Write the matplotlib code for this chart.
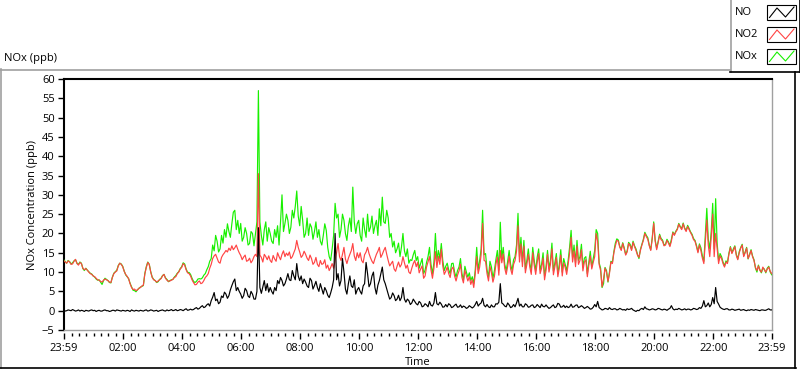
import numpy as np
import matplotlib
matplotlib.use("Agg")
import matplotlib.pyplot as plt
from matplotlib.lines import Line2D

# ---------------- data (3-minute samples from 23:59 to 23:59) ----------------
sample_step_min = 3

no_ppb = [
    0.2, -0.1, 0.0, 0.2, 0.1, 0.0, 0.3, 0.1, -0.1, 0.0, 0.2, -0.1, 0.1, 0.0, -0.2, 0.1, 0.0, -0.1, 0.1, 0.2,
    0.0, 0.1, -0.2, 0.0, 0.1, -0.1, -0.1, 0.1, 0.2, 0.0, 0.0, -0.2, -0.1, 0.1, 0.1, -0.1, 0.2, 0.1, 0.0, -0.1,
    0.1, 0.0, -0.1, 0.1, 0.0, -0.2, 0.2, 0.0, -0.1, 0.1, 0.0, -0.1, 0.1, 0.0, -0.1, 0.1, 0.2, -0.1, 0.0, 0.2,
    0.1, -0.1, 0.0, 0.1, -0.2, 0.0, 0.1, 0.2, 0.0, -0.1, 0.2, 0.0, 0.1, 0.3, 0.0, 0.1, 0.3, 0.0, 0.1, 0.3,
    0.2, 0.0, 0.3, 0.5, 0.1, 0.2, 0.4, 0.2, 0.3, 0.6, 0.8, 0.4, 0.6, 1.0, 1.3, 0.8, 1.0, 1.5, 1.8, 1.2,
    2.6, 3.5, 4.7, 2.6, 3.0, 1.8, 2.2, 3.8, 3.4, 4.8, 4.3, 3.2, 3.9, 5.4, 6.5, 7.5, 8.2, 5.2, 6.0, 5.0,
    4.3, 3.2, 3.9, 5.8, 5.2, 3.8, 3.4, 5.0, 4.3, 3.0, 3.0, 5.0, 21.5, 6.0, 4.5, 6.2, 7.8, 5.2, 7.0, 4.8,
    6.0, 5.0, 4.3, 6.0, 5.2, 7.8, 7.0, 8.6, 7.8, 6.4, 7.0, 8.2, 9.6, 8.0, 7.8, 10.4, 9.0, 8.0, 12.2, 9.0,
    7.8, 9.0, 7.0, 8.2, 7.4, 6.4, 6.0, 8.4, 7.8, 5.6, 6.5, 7.6, 6.0, 5.0, 7.0, 5.6, 4.3, 6.0, 5.2, 4.0,
    3.4, 4.6, 6.0, 8.0, 20.0, 8.0, 9.6, 6.4, 7.8, 13.5, 10.0, 5.6, 4.3, 7.0, 9.0, 6.4, 6.0, 8.0, 4.3, 5.4,
    6.0, 5.0, 4.3, 6.4, 7.0, 12.5, 9.6, 6.2, 7.0, 9.0, 10.0, 6.0, 4.3, 6.6, 7.8, 9.6, 11.3, 8.0, 7.0, 5.6,
    4.3, 3.0, 3.4, 4.6, 3.9, 2.6, 3.0, 4.0, 2.6, 3.4, 6.0, 3.0, 2.2, 3.0, 2.6, 1.6, 2.0, 3.0, 2.4, 1.8,
    1.5, 2.4, 2.0, 1.0, 1.2, 1.8, 1.5, 1.0, 2.4, 1.4, 1.2, 2.0, 4.7, 1.8, 1.5, 2.2, 1.7, 0.9, 1.0, 1.6,
    1.0, 1.8, 1.5, 0.8, 1.0, 1.4, 1.7, 0.9, 1.0, 1.5, 0.8, 1.2, 1.0, 0.6, 0.8, 1.3, 1.0, 0.7, 1.0, 1.6,
    2.4, 1.2, 1.7, 2.0, 3.2, 1.4, 1.0, 1.6, 1.0, 0.8, 1.5, 1.0, 1.0, 1.8, 1.7, 2.2, 7.0, 2.0, 1.7, 1.2,
    1.0, 2.0, 1.5, 0.8, 1.0, 1.6, 1.0, 2.0, 3.2, 1.2, 1.7, 1.0, 1.0, 1.8, 1.5, 0.9, 1.0, 1.4, 1.5, 0.8,
    1.0, 1.6, 1.2, 0.8, 1.7, 1.1, 1.0, 1.5, 1.0, 0.6, 0.8, 1.2, 1.5, 0.8, 1.0, 1.9, 1.7, 0.9, 1.0, 1.4,
    0.8, 1.2, 0.8, 1.0, 1.7, 0.9, 1.0, 1.4, 1.5, 0.8, 1.0, 1.3, 1.0, 0.6, 0.8, 1.1, 0.8, 0.4, 0.5, 0.9,
    1.6, 1.0, 2.4, 0.8, 0.5, 0.2, 0.3, 0.6, 0.5, 0.3, 0.8, 0.4, 0.3, 0.5, 0.5, 0.2, 0.3, 0.6, 0.4, 0.2,
    0.3, 0.1, 0.5, 0.3, 0.4, 0.6, 0.2, 0.0, -0.2, 0.1, 0.0, 0.4, 0.6, 0.3, 1.0, 0.5, 0.4, 0.2, 0.3, 0.5,
    0.4, 0.2, 0.3, 0.6, 0.5, 0.3, 0.2, 0.4, 0.3, 0.1, 0.4, 0.6, 1.3, 0.5, 0.2, 0.4, 0.3, 0.6, 0.4, 0.2,
    0.3, 0.5, 0.2, 0.4, 0.4, 0.2, 0.3, 0.6, 0.5, 0.3, 0.4, 0.8, 0.6, 1.2, 2.6, 1.0, 1.3, 2.0, 1.0, 1.6,
    3.4, 1.8, 6.0, 2.4, 1.7, 0.9, 0.6, 0.4, 0.3, 0.5, 0.5, 0.2, 0.2, 0.4, 0.3, 0.1, 0.2, 0.3, 0.4, 0.1,
    0.2, 0.3, 0.1, 0.0, 0.2, 0.1, 0.3, 0.2, 0.1, 0.3, 0.2, 0.1, 0.0, 0.2, 0.2, 0.1, 0.1, 0.3, 0.5, 0.2, 0.2,
]

no2_ppb = [
    13.0, 12.6, 12.3, 12.9, 12.6, 12.0, 12.1, 12.8, 13.3, 12.2, 11.8, 12.5, 12.2, 11.0, 10.6, 10.9, 10.5, 10.0, 9.6, 9.4,
    9.0, 8.8, 8.4, 8.0, 7.9, 7.6, 7.4, 7.9, 8.2, 8.0, 7.8, 7.4, 7.3, 8.6, 9.6, 10.0, 10.3, 11.6, 12.3, 12.0,
    11.4, 10.2, 9.4, 8.9, 8.3, 7.0, 6.0, 5.5, 5.6, 5.2, 5.4, 5.8, 6.0, 6.4, 6.6, 9.5, 11.2, 12.5, 12.0, 10.0,
    8.6, 8.0, 7.8, 7.4, 7.7, 8.0, 8.3, 9.0, 9.4, 8.4, 7.9, 7.6, 7.7, 7.9, 8.1, 8.6, 8.8, 9.6, 10.0, 10.8,
    11.2, 12.2, 11.8, 10.6, 9.8, 9.6, 9.0, 8.0, 7.3, 6.7, 6.8, 7.4, 7.7, 7.0, 7.2, 7.8, 8.6, 9.0, 9.6, 11.0,
    12.0, 13.5, 14.2, 14.6, 13.6, 12.6, 12.3, 13.8, 14.5, 15.0, 15.6, 15.2, 16.2, 15.6, 16.8, 15.8, 16.3, 17.0, 15.9, 15.0,
    14.3, 13.2, 13.9, 14.4, 12.8, 13.0, 13.6, 12.4, 13.0, 14.0, 14.6, 14.0, 35.5, 14.4, 13.8, 12.6, 14.6, 14.0, 13.2, 14.2,
    13.0, 12.5, 14.3, 13.4, 12.8, 15.0, 14.0, 13.2, 14.6, 15.5, 14.0, 14.9, 14.3, 15.2, 13.5, 14.0, 15.0, 16.0, 18.2, 16.4,
    15.2, 13.8, 14.3, 15.4, 14.6, 13.6, 13.0, 14.4, 13.5, 12.0, 12.5, 13.8, 12.0, 11.4, 13.0, 12.0, 12.2, 13.2, 11.0, 11.8,
    10.4, 11.2, 12.2, 11.0, 13.0, 15.0, 17.4, 14.0, 13.0, 14.6, 16.4, 13.4, 12.2, 13.6, 14.6, 15.6, 17.4, 14.2, 13.0, 15.0,
    13.7, 15.0, 13.0, 12.4, 14.5, 15.2, 16.4, 14.8, 13.7, 12.8, 12.2, 13.5, 14.6, 15.4, 16.4, 13.8, 14.6, 15.6, 16.4, 14.6,
    13.0, 11.6, 12.2, 12.8, 10.8, 10.2, 11.5, 12.6, 11.3, 12.0, 14.0, 12.4, 11.0, 11.8, 10.0, 9.6, 11.0, 12.2, 13.0, 11.4,
    12.5, 9.8, 10.8, 11.6, 8.4, 9.0, 11.3, 12.6, 14.0, 10.6, 8.4, 11.0, 15.3, 11.2, 14.1, 12.0, 15.9, 11.6, 9.4, 10.2,
    11.3, 9.6, 8.6, 10.8, 11.3, 9.0, 7.7, 9.2, 10.3, 12.0, 8.6, 7.2, 10.5, 9.0, 7.7, 8.8, 6.8, 8.0, 6.0, 9.5,
    14.0, 9.6, 11.3, 14.5, 22.6, 13.0, 12.8, 9.6, 7.7, 11.5, 9.8, 7.4, 8.9, 12.0, 13.9, 9.2, 15.6, 12.4, 14.7, 11.0,
    9.4, 11.5, 14.1, 10.8, 9.4, 12.0, 13.0, 15.4, 22.0, 12.6, 17.3, 11.4, 16.7, 9.8, 12.0, 14.6, 11.3, 9.4, 15.0, 11.8,
    9.4, 12.5, 14.8, 9.6, 11.0, 13.6, 8.0, 10.4, 14.6, 10.0, 12.0, 16.0, 9.3, 11.4, 13.8, 8.8, 11.0, 14.4, 9.0, 12.4,
    11.2, 9.4, 12.0, 15.0, 19.0, 12.6, 15.5, 11.4, 16.7, 12.0, 13.0, 15.8, 10.3, 12.6, 13.2, 8.8, 11.7, 14.2, 10.8, 12.5,
    14.0, 20.0, 18.0, 12.0, 10.4, 6.2, 8.3, 11.0, 10.0, 7.6, 9.6, 12.6, 12.2, 15.0, 16.8, 18.2, 18.0, 16.4, 15.6, 17.4,
    16.0, 14.4, 15.2, 17.4, 16.8, 15.6, 17.7, 16.6, 15.6, 14.4, 13.8, 15.6, 17.0, 18.2, 20.0, 19.2, 18.5, 16.8, 15.6, 18.6,
    22.6, 18.0, 15.8, 17.6, 19.5, 18.4, 18.0, 16.8, 17.0, 18.2, 17.5, 16.6, 18.0, 20.2, 19.5, 20.4, 21.0, 22.4, 21.6, 21.0,
    22.5, 21.2, 20.5, 21.8, 21.0, 20.2, 19.5, 18.4, 18.0, 16.6, 15.0, 17.0, 15.5, 13.6, 12.2, 18.0, 23.5, 17.0, 14.0, 19.0,
    25.0, 14.0, 20.0, 16.0, 12.2, 14.2, 13.5, 12.2, 11.3, 12.6, 12.2, 14.6, 16.4, 14.8, 15.6, 16.6, 14.3, 13.2, 15.0, 16.2,
    17.0, 14.0, 15.0, 16.2, 13.5, 14.4, 15.6, 14.0, 13.0, 11.2, 10.4, 11.6, 10.4, 10.0, 11.3, 10.6, 10.0, 10.8, 11.3, 10.2, 9.6,
]

nox_ppb = [
    13.2, 12.7, 12.3, 13.0, 12.7, 12.1, 12.4, 12.9, 13.2, 12.3, 12.0, 12.6, 12.3, 10.9, 10.4, 11.0, 10.5, 10.1, 9.7, 9.5,
    9.0, 8.7, 8.2, 7.9, 8.0, 7.4, 6.8, 7.8, 8.4, 8.1, 7.8, 7.3, 7.2, 8.7, 9.7, 10.1, 10.5, 11.7, 12.3, 12.1,
    11.5, 10.3, 9.3, 8.8, 8.3, 7.1, 6.2, 5.3, 5.2, 4.9, 5.4, 5.8, 6.1, 6.3, 6.5, 9.6, 11.4, 12.6, 12.0, 10.1,
    8.7, 8.1, 7.8, 7.3, 7.5, 8.1, 8.4, 9.1, 9.4, 8.5, 8.1, 7.5, 7.8, 8.0, 8.1, 8.7, 9.1, 9.7, 10.1, 10.9,
    11.4, 12.4, 12.1, 10.8, 9.9, 9.9, 9.4, 8.4, 7.6, 7.3, 7.6, 8.2, 8.3, 8.2, 8.5, 9.2, 9.6, 10.6, 11.4, 12.8,
    13.5, 17.0, 15.5, 19.5, 18.0, 15.2, 16.0, 19.5, 17.5, 21.0, 19.0, 22.5, 20.5, 19.0, 22.5, 25.5, 26.0, 21.0, 23.4, 20.0,
    22.6, 18.0, 19.0, 21.5, 20.0, 17.0, 17.4, 20.5, 20.0, 16.8, 20.0, 23.0, 57.0, 23.0, 19.5, 17.0, 21.0, 23.0, 18.0, 21.5,
    20.0, 18.0, 17.4, 21.0, 19.0, 22.0, 17.0, 23.0, 30.0, 20.5, 22.6, 25.0, 23.4, 20.0, 21.6, 26.0, 24.0, 27.0, 31.0, 24.5,
    22.0, 27.0, 23.4, 19.0, 20.0, 24.0, 19.5, 22.5, 21.6, 18.5, 20.5, 23.0, 19.0, 21.0, 18.0, 17.0, 19.5, 22.5, 20.8, 16.4,
    14.0, 13.0, 16.0, 19.5, 27.8, 24.0, 25.0, 19.0, 21.0, 25.0, 23.4, 20.0, 18.2, 22.0, 24.0, 20.5, 32.0, 23.0, 20.0, 22.5,
    23.4, 19.5, 18.0, 24.0, 21.0, 19.0, 25.0, 20.5, 21.6, 24.5, 20.0, 22.0, 23.4, 19.5, 26.4, 22.0, 29.4, 23.0, 22.6, 26.0,
    24.0, 19.0, 20.0, 16.5, 18.0, 15.0, 16.0, 17.5, 14.0, 16.5, 20.0, 15.5, 14.0, 16.0, 12.3, 13.2, 13.0, 14.5, 15.6, 13.0,
    14.0, 11.0, 12.3, 13.5, 9.6, 10.5, 12.5, 14.0, 16.4, 12.0, 9.6, 12.5, 20.0, 13.0, 15.6, 13.5, 17.4, 13.0, 10.4, 11.5,
    12.3, 10.6, 9.6, 12.2, 12.3, 10.0, 8.7, 10.4, 11.3, 13.5, 9.6, 8.0, 11.5, 10.0, 8.7, 9.8, 7.8, 8.8, 7.0, 10.5,
    16.4, 10.6, 13.0, 16.0, 26.0, 14.5, 14.8, 10.6, 8.7, 12.8, 11.3, 8.4, 10.4, 13.2, 15.6, 10.5, 22.9, 13.5, 16.4, 12.0,
    10.4, 12.8, 15.6, 12.0, 10.4, 13.2, 14.0, 17.0, 25.2, 14.0, 19.0, 12.6, 18.2, 10.8, 13.0, 16.0, 12.3, 10.4, 16.4, 13.0,
    10.4, 13.8, 16.0, 10.6, 12.0, 15.0, 9.0, 11.4, 15.6, 11.0, 13.0, 17.5, 10.3, 12.4, 14.8, 9.6, 12.0, 15.8, 10.0, 13.5,
    12.0, 10.4, 13.0, 16.5, 20.8, 13.8, 17.0, 12.4, 18.2, 13.0, 14.0, 17.2, 11.3, 13.6, 14.0, 9.6, 12.5, 15.4, 11.3, 13.5,
    15.6, 21.0, 20.0, 12.4, 11.0, 6.0, 7.0, 11.2, 10.4, 7.4, 10.0, 12.8, 12.5, 15.3, 17.5, 18.6, 18.3, 16.6, 16.0, 17.6,
    16.3, 14.6, 15.5, 17.7, 17.2, 15.9, 18.0, 16.8, 16.0, 14.6, 13.5, 15.9, 17.2, 18.5, 20.3, 19.5, 18.9, 17.0, 15.8, 18.9,
    23.0, 18.3, 16.2, 17.9, 19.8, 18.7, 18.3, 17.0, 17.2, 18.5, 17.8, 16.9, 18.5, 20.4, 19.7, 20.6, 21.2, 22.6, 21.8, 21.3,
    22.7, 21.4, 20.8, 22.1, 21.3, 20.4, 19.8, 18.7, 18.2, 16.9, 15.3, 17.3, 16.3, 14.2, 12.8, 19.5, 26.5, 18.5, 16.0, 20.5,
    27.8, 16.0, 29.0, 17.5, 13.0, 14.8, 14.0, 12.6, 11.6, 12.9, 12.5, 14.9, 16.6, 15.0, 16.0, 16.8, 14.6, 13.4, 15.3, 16.4,
    17.2, 14.2, 15.2, 16.4, 13.4, 14.6, 15.8, 14.2, 13.2, 11.0, 10.0, 11.8, 10.6, 9.8, 11.0, 10.8, 9.8, 11.0, 11.5, 10.0, 9.3,
]

xtick_minutes = [0, 121, 241, 361, 481, 601, 721, 841, 961, 1081, 1201, 1321, 1440]
xtick_labels = ["23:59", "02:00", "04:00", "06:00", "08:00", "10:00", "12:00",
                "14:00", "16:00", "18:00", "20:00", "22:00", "23:59"]
ytick_values = list(range(-5, 61, 5))
series_names = ["NO", "NO2", "NOx"]
series_colors = ["#000000", "#ff4444", "#18f000"]

# ---------------- figure ----------------
plt.rcParams["font.family"] = ["Open Sans", "DejaVu Sans"]
plt.rcParams["font.size"] = 8
W, H = 800, 369
fig = plt.figure(figsize=(W / 100, H / 100), dpi=100)
fig.patch.set_facecolor("white")

# overlay for panel frame and legend (pixel coordinates)
ov = fig.add_axes([0, 0, 1, 1])
ov.set_xlim(0, W)
ov.set_ylim(H, 0)
ov.axis("off")

gray = "#a0a0a0"
ov.add_line(Line2D([0.5, 0.5], [69, 368], color=gray, lw=1.2))
ov.add_line(Line2D([0, 730], [69.5, 69.5], color=gray, lw=1.2))
ov.add_line(Line2D([795, 795], [72, 368], color="black", lw=1.2))
ov.add_line(Line2D([0, 795.5], [368, 368], color="black", lw=1.2))

ov.text(4, 58, "NOx (ppb)", ha="left", va="center", fontsize=8, color="black")

# legend box
ov.add_line(Line2D([730.5, 730.5], [0, 72], color=gray, lw=1.2))
ov.add_line(Line2D([730, 799.5], [72, 72], color="black", lw=1.2))
ov.add_line(Line2D([799.5, 799.5], [0, 72], color="black", lw=1.2))
leg_rows_y = [12.5, 34.5, 56.5]
for name, col, yc in zip(series_names, series_colors, leg_rows_y):
    ov.text(735, yc, name, ha="left", va="center", fontsize=8, color="black")
    ov.add_patch(plt.Rectangle((767, yc - 7.5), 29, 15, fill=True,
                               facecolor="white", edgecolor="black", lw=0.8))
    ov.add_line(Line2D([769.5, 777, 785.5, 794], [yc + 5, yc - 4.5, yc + 4.5, yc - 5.5],
                       color=col, lw=0.8))

# plot axes
ax = fig.add_axes([63.7 / W, 39 / H, 708 / W, 251 / H])
ax.set_zorder(2)
ax.patch.set_alpha(0)

for vals, col, z in [(nox_ppb, series_colors[2], 3), (no2_ppb, series_colors[1], 4),
                     (no_ppb, series_colors[0], 5)]:
    t = np.arange(len(vals)) * sample_step_min
    ax.plot(t, vals, color=col, lw=0.85, zorder=z)

ax.set_xlim(0, 1440)
ax.set_ylim(-5, 60)

ax.set_xticks(xtick_minutes)
ax.set_xticklabels(xtick_labels)
minor = [m for m in range(16, 1440, 15) if (m - 1) % 120 != 0]
ax.set_xticks(minor, minor=True)
ax.set_yticks(ytick_values)

ax.tick_params(axis="x", which="major", length=4.5, width=1, direction="out", pad=3, labelsize=8)
ax.tick_params(axis="x", which="minor", length=2.5, width=1, direction="out")
ax.tick_params(axis="y", which="major", length=4, width=1, direction="out", pad=2.5, labelsize=8)

ax.spines["left"].set_linewidth(1.5)
ax.spines["top"].set_linewidth(1.5)
ax.spines["right"].set_color(gray)
ax.spines["right"].set_linewidth(1.0)
ax.spines["bottom"].set_position(("outward", 2))
ax.spines["bottom"].set_visible(False)
ax.axhline(-5, color=gray, lw=1.0, clip_on=False, zorder=6)

ax.set_ylabel("NOx Concentration (ppb)", fontsize=8, labelpad=3)
ax.set_xlabel("Time", fontsize=8, labelpad=2)

fig.savefig("out.png", dpi=100, facecolor="white")
